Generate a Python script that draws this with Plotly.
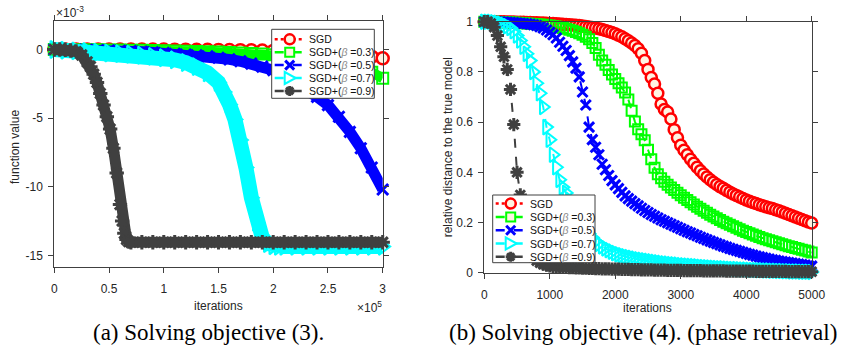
import plotly.graph_objects as go

FIG_W, FIG_H = 847, 352

# ---------------- panel (a): x in units of 1e5 iterations, y in units of 1e-3
a_x = [0, 0.1, 0.2, 0.3, 0.4, 0.5, 0.6, 0.7, 0.8, 0.9, 1.0, 1.1, 1.2, 1.3, 1.4, 1.5,
       1.6, 1.7, 1.8, 1.9, 2.0, 2.1, 2.2, 2.3, 2.4, 2.5, 2.6, 2.7, 2.8, 2.9, 3.0]
a_sgd = [0, 0, 0, 0, 0, 0, 0, 0, 0, 0, 0,
         -0.01, -0.01, -0.02, -0.02, -0.03, -0.04, -0.05, -0.06, -0.08, -0.10,
         -0.12, -0.14, -0.17, -0.20, -0.24, -0.29, -0.35, -0.42, -0.52, -0.64]
a_b03 = [0, 0, -0.01, -0.01, -0.02, -0.03, -0.04, -0.05, -0.06, -0.07, -0.09,
         -0.10, -0.12, -0.14, -0.16, -0.19, -0.22, -0.25, -0.29, -0.33, -0.38,
         -0.44, -0.51, -0.59, -0.69, -0.81, -0.95, -1.12, -1.34, -1.65, -2.10]
a_b05 = [0, 0, -0.01, -0.02, -0.04, -0.06, -0.09, -0.12, -0.16, -0.21, -0.26,
         -0.31, -0.36, -0.42, -0.50, -0.60, -0.72, -0.86, -1.03, -1.25, -1.50,
         -1.95, -2.40, -2.90, -3.45, -4.05, -4.90, -6.00, -7.20, -8.60, -10.20]
a_b07_x = [0, 0.1, 0.2, 0.3, 0.4, 0.5, 0.6, 0.7, 0.8, 0.9, 1.0, 1.1, 1.2, 1.3, 1.4, 1.5,
           1.55, 1.6, 1.65, 1.7, 1.75, 1.8, 1.85, 1.9, 1.95, 2.0, 2.05,
           2.1, 2.2, 2.3, 2.4, 2.5, 2.6, 2.7, 2.8, 2.9, 3.0]
a_b07 = [0, -0.05, -0.10, -0.15, -0.20, -0.25, -0.30, -0.35, -0.42, -0.50, -0.60,
         -0.75, -0.95, -1.25, -1.70, -2.40,
         -3.10, -4.00, -5.10, -6.60, -8.60, -10.80, -12.60, -13.70, -14.15, -14.30, -14.35,
         -14.35, -14.35, -14.35, -14.35, -14.35, -14.35, -14.35, -14.35, -14.35, -14.35]
a_b09_x = [0, 0.05, 0.1, 0.15, 0.2, 0.25, 0.3, 0.33, 0.36, 0.39, 0.42, 0.45, 0.48, 0.51,
           0.54, 0.57, 0.6, 0.62, 0.64, 0.66, 0.68, 0.7,
           0.8, 0.9, 1.0, 1.1, 1.2, 1.3, 1.4, 1.5, 1.6, 1.7, 1.8, 1.9, 2.0,
           2.1, 2.2, 2.3, 2.4, 2.5, 2.6, 2.7, 2.8, 2.9, 3.0]
a_b09 = [0, 0, -0.02, -0.07, -0.15, -0.40, -0.90, -1.25, -1.80, -2.40, -3.20, -4.05, -4.90,
         -5.80, -7.20, -9.00, -11.30, -12.50, -13.40, -13.85, -14.00, -14.05,
         -14.05, -14.05, -14.05, -14.05, -14.05, -14.05, -14.05, -14.05, -14.05, -14.05,
         -14.05, -14.05, -14.05, -14.05, -14.05, -14.05, -14.05, -14.05, -14.05, -14.05,
         -14.05, -14.05, -14.05]
a_xtick_vals = [0, 0.5, 1, 1.5, 2, 2.5, 3]
a_xtick_text = ["0", "0.5", "1", "1.5", "2", "2.5", "3"]
a_ytick_vals = [-15, -10, -5, 0]
a_ytick_text = ["-15", "-10", "-5", "0"]

# ---------------- panel (b): relative distance vs iterations (recorded every 50)
b_iter = list(range(0, 5001, 50))
b_sgd = [1.000, 1.000, 1.000, 1.000, 1.000, 1.000, 1.000, 0.999, 0.999, 0.999, 0.998,
         0.998, 0.998, 0.997, 0.997, 0.996, 0.996, 0.995, 0.995, 0.994, 0.993,
         0.993, 0.992, 0.991, 0.990, 0.989, 0.988, 0.987, 0.986, 0.985, 0.983,
         0.981, 0.979, 0.977, 0.975, 0.972, 0.969, 0.965, 0.961, 0.957, 0.952,
         0.946, 0.940, 0.932, 0.924, 0.915, 0.905, 0.892, 0.874, 0.845, 0.810,
         0.778, 0.752, 0.715, 0.672, 0.650, 0.640, 0.612, 0.570, 0.538, 0.508,
         0.488, 0.470, 0.452, 0.436, 0.420, 0.406, 0.393, 0.381, 0.370, 0.360,
         0.351, 0.343, 0.336, 0.328, 0.321, 0.314, 0.308, 0.302, 0.296, 0.290,
         0.285, 0.280, 0.276, 0.271, 0.267, 0.263, 0.259, 0.256, 0.251, 0.247,
         0.242, 0.237, 0.232, 0.227, 0.222, 0.217, 0.212, 0.207, 0.202, 0.198]
b_b03 = [1.000, 1.000, 1.000, 1.000, 0.999, 0.999, 0.998, 0.998, 0.997, 0.997, 0.996,
         0.995, 0.994, 0.993, 0.992, 0.991, 0.990, 0.989, 0.988, 0.987, 0.985,
         0.983, 0.981, 0.978, 0.975, 0.972, 0.968, 0.964, 0.959, 0.954, 0.948,
         0.940, 0.930, 0.915, 0.895, 0.868, 0.845, 0.828, 0.808, 0.790, 0.772,
         0.755, 0.738, 0.718, 0.690, 0.645, 0.602, 0.572, 0.552, 0.528, 0.490,
         0.452, 0.418, 0.392, 0.376, 0.362, 0.350, 0.339, 0.329, 0.319, 0.309,
         0.299, 0.290, 0.281, 0.272, 0.263, 0.255, 0.247, 0.239, 0.231, 0.224,
         0.217, 0.210, 0.203, 0.197, 0.191, 0.185, 0.179, 0.173, 0.167, 0.162,
         0.157, 0.152, 0.147, 0.142, 0.137, 0.133, 0.129, 0.125, 0.121, 0.117,
         0.113, 0.109, 0.105, 0.102, 0.098, 0.095, 0.091, 0.088, 0.084, 0.080]
b_b05 = [1.000, 1.000, 1.000, 1.000, 1.000, 0.999, 0.999, 0.998, 0.997, 0.996, 0.995,
         0.994, 0.993, 0.992, 0.990, 0.988, 0.985, 0.980, 0.975, 0.967, 0.958,
         0.948, 0.935, 0.918, 0.902, 0.885, 0.865, 0.840, 0.815, 0.780, 0.720,
         0.668, 0.580, 0.530, 0.500, 0.470, 0.432, 0.410, 0.387, 0.367, 0.350,
         0.335, 0.320, 0.306, 0.295, 0.285, 0.275, 0.266, 0.257, 0.248, 0.240,
         0.232, 0.225, 0.218, 0.211, 0.205, 0.199, 0.193, 0.187, 0.181, 0.175,
         0.169, 0.163, 0.158, 0.152, 0.147, 0.141, 0.136, 0.131, 0.126, 0.121,
         0.116, 0.111, 0.106, 0.102, 0.097, 0.093, 0.089, 0.085, 0.081, 0.077,
         0.073, 0.070, 0.066, 0.063, 0.060, 0.057, 0.054, 0.051, 0.049, 0.046,
         0.044, 0.042, 0.040, 0.038, 0.036, 0.034, 0.032, 0.030, 0.028, 0.026]
b_b07 = [1.000, 1.000, 1.000, 0.998, 0.996, 0.993, 0.988, 0.982, 0.975, 0.962, 0.945,
         0.925, 0.900, 0.872, 0.845, 0.800, 0.755, 0.715, 0.660, 0.580, 0.530,
         0.470, 0.420, 0.370, 0.340, 0.318, 0.290, 0.262, 0.235, 0.210, 0.190,
         0.170, 0.155, 0.140, 0.125, 0.115, 0.105, 0.097, 0.090, 0.084, 0.078,
         0.073, 0.069, 0.065, 0.062, 0.059, 0.056, 0.053, 0.051, 0.049, 0.047,
         0.045, 0.043, 0.041, 0.039, 0.037, 0.036, 0.034, 0.033, 0.032, 0.030,
         0.029, 0.028, 0.027, 0.026, 0.025, 0.024, 0.023, 0.022, 0.021, 0.020,
         0.019, 0.018, 0.018, 0.017, 0.016, 0.015, 0.015, 0.014, 0.013, 0.013,
         0.012, 0.011, 0.011, 0.010, 0.010, 0.009, 0.009, 0.008, 0.008, 0.007,
         0.007, 0.006, 0.006, 0.005, 0.005, 0.005, 0.004, 0.004, 0.004, 0.003]
b_b09 = [1.000, 1.000, 0.993, 0.978, 0.945, 0.900, 0.860, 0.810, 0.730, 0.590, 0.400,
         0.310, 0.210, 0.140, 0.090, 0.062, 0.048, 0.040, 0.034, 0.030, 0.027,
         0.025, 0.024, 0.023, 0.022, 0.021, 0.020, 0.020, 0.019, 0.019, 0.018,
         0.018, 0.017, 0.017, 0.016, 0.016, 0.015, 0.015, 0.015, 0.014, 0.014,
         0.014, 0.013, 0.013, 0.013, 0.012, 0.012, 0.012, 0.011, 0.011, 0.011,
         0.011, 0.010, 0.010, 0.010, 0.010, 0.009, 0.009, 0.009, 0.009, 0.009,
         0.008, 0.008, 0.008, 0.008, 0.008, 0.008, 0.007, 0.007, 0.007, 0.007,
         0.007, 0.007, 0.007, 0.006, 0.006, 0.006, 0.006, 0.006, 0.006, 0.006,
         0.006, 0.006, 0.005, 0.005, 0.005, 0.005, 0.005, 0.005, 0.005, 0.005,
         0.005, 0.005, 0.004, 0.004, 0.004, 0.004, 0.004, 0.004, 0.004, 0.004]
b_xtick_vals = [0, 1000, 2000, 3000, 4000, 5000]
b_xtick_text = ["0", "1000", "2000", "3000", "4000", "5000"]
b_ytick_vals = [0, 0.2, 0.4, 0.6, 0.8, 1]
b_ytick_text = ["0", "0.2", "0.4", "0.6", "0.8", "1"]

for s in (b_sgd, b_b03, b_b05, b_b07, b_b09):
    assert len(s) == len(b_iter), len(s)

BETA = "<span style='color:#8c8c8c'><i>β</i></span>"
series_labels = ["SGD", "SGD+(" + BETA + " =0.3)", "SGD+(" + BETA + " =0.5)",
                 "SGD+(" + BETA + " =0.7)", "SGD+(" + BETA + " =0.9)"]

# ---------------- styles
colors = ["#FF0000", "#00FF00", "#0000FF", "#00FFFF", "#404040"]
symbols = ["circle", "square-open", "x-thin-open", "triangle-right-open", "asterisk-open"]
CREAM = "#FFF4E2"
fills = [CREAM, None, None, None, None]
dashes = ["dot", "dash", "dash", "dash", "dash"]
b_msize = [11, 10, 10, 13, 11]
b_mlw = [2.5, 2, 3, 2, 3]
a_msize = [12, 11, 11, 15, 12]
a_band = [10, 10, 11, 15, 11]
AX = "#404040"
TXT = "#262626"
FONT = "Liberation Sans, Arial, sans-serif"
SERIF = "Liberation Serif, Times New Roman, serif"


def px(x):
    return x / FIG_W


def py(y):
    return 1 - y / FIG_H


def P(x, y):
    return "%.5f,%.5f" % (px(x), py(y))


def marker(k, size):
    return dict(symbol=symbols[k], size=size, color=fills[k] or colors[k],
                line=dict(color=colors[k], width=b_mlw[k]))


fig = go.Figure()

a_series = [(a_x, a_sgd), (a_x, a_b03), (a_x, a_b05), (a_b07_x, a_b07), (a_b09_x, a_b09)]
for k, (xs, ys) in enumerate(a_series):
    fig.add_trace(go.Scatter(x=xs, y=ys, xaxis="x", yaxis="y", mode="lines+markers",
                             line=dict(color=colors[k], width=a_band[k]),
                             marker=marker(k, a_msize[k]), cliponaxis=False,
                             showlegend=False, hoverinfo="skip"))

b_series = [b_sgd, b_b03, b_b05, b_b07, b_b09]
for k, ys in enumerate(b_series):
    fig.add_trace(go.Scatter(x=b_iter, y=ys, xaxis="x2", yaxis="y2", mode="lines+markers",
                             line=dict(color=colors[k], width=2, dash=dashes[k]),
                             marker=marker(k, b_msize[k]), cliponaxis=False,
                             showlegend=False, hoverinfo="skip"))

# ---------------- legends drawn as shapes above the data (box, line samples, symbols)
shapes = []
annotations = []
legends = [
    dict(box=(271.7, 29.3, 374.3, 98.3), row0=10.0, step=12.9),
    dict(box=(492.7, 195.0, 595.0, 262.7), row0=8.6, step=13.3),
]


def legend_symbol(k, cx, cy):
    c = colors[k]
    if k == 0:
        r = 5
        shapes.append(dict(type="circle", xref="paper", yref="paper", layer="above",
                           x0=px(cx - r), x1=px(cx + r), y0=py(cy + r), y1=py(cy - r),
                           fillcolor=CREAM, line=dict(color=c, width=2.5)))
    elif k == 1:
        r = 4.5
        shapes.append(dict(type="rect", xref="paper", yref="paper", layer="above",
                           x0=px(cx - r), x1=px(cx + r), y0=py(cy + r), y1=py(cy - r),
                           fillcolor=CREAM, line=dict(color=c, width=2)))
    elif k == 2:
        r = 4.5
        path = "M%s L%s M%s L%s" % (P(cx - r, cy - r), P(cx + r, cy + r),
                                    P(cx - r, cy + r), P(cx + r, cy - r))
        shapes.append(dict(type="path", xref="paper", yref="paper", layer="above",
                           path=path, line=dict(color=c, width=3)))
    elif k == 3:
        r = 6
        path = "M%s L%s L%s Z" % (P(cx - r + 1, cy - r), P(cx + r, cy), P(cx - r + 1, cy + r))
        shapes.append(dict(type="path", xref="paper", yref="paper", layer="above",
                           path=path, fillcolor="white", line=dict(color=c, width=2)))
    else:
        r = 5
        d = r * 0.7071
        path = "M%s L%s M%s L%s M%s L%s M%s L%s" % (
            P(cx, cy - r), P(cx, cy + r), P(cx - r, cy), P(cx + r, cy),
            P(cx - d, cy - d), P(cx + d, cy + d), P(cx - d, cy + d), P(cx + d, cy - d))
        shapes.append(dict(type="path", xref="paper", yref="paper", layer="above",
                           path=path, line=dict(color=c, width=3)))


for L in legends:
    x0, y0, x1, y1 = L["box"]
    shapes.append(dict(type="rect", xref="paper", yref="paper", layer="above",
                       x0=px(x0), x1=px(x1), y0=py(y1), y1=py(y0),
                       fillcolor="white", line=dict(color=AX, width=1)))
    for k in range(5):
        r = y0 + L["row0"] + k * L["step"]
        shapes.append(dict(type="line", xref="paper", yref="paper", layer="above",
                           x0=px(x0 + 3), x1=px(x0 + 33), y0=py(r), y1=py(r),
                           line=dict(color=colors[k], width=2.5, dash=dashes[k])))
        legend_symbol(k, x0 + 18, r)
        annotations.append(dict(x=px(x0 + 35), y=py(r), xref="paper", yref="paper",
                                text=series_labels[k], showarrow=False,
                                xanchor="left", yanchor="middle",
                                font=dict(family=FONT, size=10.5, color="#111111")))


def ann(x, y, text, size=12, angle=0, xanchor="center", family=FONT, color=TXT):
    annotations.append(dict(x=px(x), y=py(y), xref="paper", yref="paper", text=text,
                            showarrow=False, textangle=angle, xanchor=xanchor, yanchor="middle",
                            font=dict(family=family, size=size, color=color)))


ann(218.5, 306, "iterations")
ann(647.7, 308, "iterations")
ann(15, 147, "function value", angle=-90)
ann(448.3, 147, "relative distance to the true model", angle=-90)
ann(54, 12, "×10<sup>-3</sup>", xanchor="left")
ann(384, 307, "×10<sup>5</sup>", xanchor="right")
ann(208, 332, "(a) Solving objective (3).", size=23, family=SERIF, color="black")
ann(643, 332, "(b) Solving objective (4). (phase retrieval)", size=23, family=SERIF, color="black")

axis_common = dict(showline=True, linecolor=AX, linewidth=1, mirror="ticks", ticks="outside",
                   ticklen=5, tickwidth=1, tickcolor=AX, showgrid=False, zeroline=False,
                   automargin=False, tickfont=dict(family=FONT, size=12, color=TXT),
                   tickmode="array")

fig.update_layout(
    template="none",
    width=FIG_W, height=FIG_H, margin=dict(l=0, r=0, t=0, b=0, pad=0), autosize=False,
    paper_bgcolor="white", plot_bgcolor="white", showlegend=False, hovermode=False,
    xaxis=dict(domain=[px(54.3), px(382.7)], range=[0, 3], anchor="y",
               tickvals=a_xtick_vals, ticktext=a_xtick_text, ticklabelstandoff=6, **axis_common),
    yaxis=dict(domain=[py(266.7), py(20.7)], range=[-15.83, 2.1], anchor="x",
               tickvals=a_ytick_vals, ticktext=a_ytick_text, ticklabelstandoff=3, **axis_common),
    xaxis2=dict(domain=[px(484.3), px(811.7)], range=[0, 5000], anchor="y2",
                tickvals=b_xtick_vals, ticktext=b_xtick_text, ticklabelstandoff=6, **axis_common),
    yaxis2=dict(domain=[py(272.7), py(21.7)], range=[0, 1], anchor="x2",
                tickvals=b_ytick_vals, ticktext=b_ytick_text, ticklabelstandoff=3, **axis_common),
    shapes=shapes,
    annotations=annotations,
)

fig.write_html("out.html", config={"displayModeBar": False, "staticPlot": True},
               post_script="document.body.style.margin='0px';")
